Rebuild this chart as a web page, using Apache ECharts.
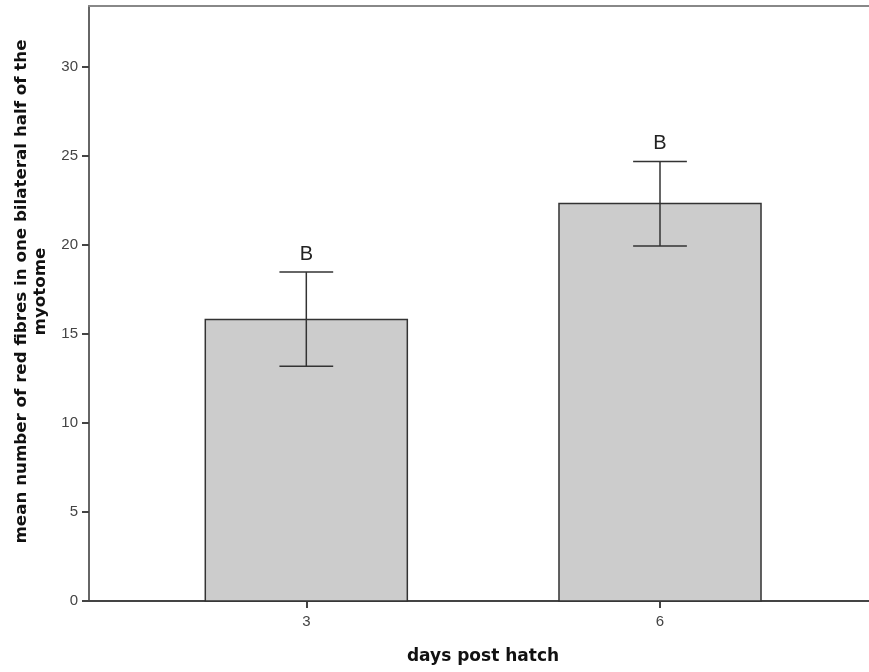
<!DOCTYPE html>
<html>
<head>
<meta charset="utf-8">
<script src="https://cdn.jsdelivr.net/npm/echarts@6/dist/echarts.min.js"></script>
<style>html,body{margin:0;padding:0;background:#fff}#c{width:869px;height:672px}</style>
</head>
<body>
<div id="c"></div>
<script>
var categories = ['3', '6'];
var means = [15.8, 22.3];
var lowerCI = [13.17, 19.92];
var upperCI = [18.46, 24.66];
var letters = ['B', 'B'];
var yTicks = [0, 5, 10, 15, 20, 25, 30];

var chart = echarts.init(document.getElementById('c'));
var idx = categories.map(function (c, i) { return i; });
var barHalf = 0.2856, capHalf = 0.076;

chart.setOption({
  animation: false,
  grid: { left: 89, right: 0, top: 6, bottom: 71, outerBoundsMode: 'none', containLabel: false },
  xAxis: [{
    type: 'value', min: -0.6144, max: 1.5909,
    splitLine: { show: false },
    axisLine: { onZero: false, lineStyle: { color: '#444', width: 2 } },
    axisTick: { customValues: idx, length: 7, lineStyle: { color: '#444', width: 2 } },
    axisLabel: { customValues: idx, formatter: function (v) { return categories[Math.round(v)]; },
      color: '#444', fontSize: 15, fontFamily: 'Liberation Sans', margin: 13 },
    name: 'days post hatch', nameLocation: 'middle', nameGap: 47,
    nameTextStyle: { fontSize: 17, fontWeight: 'bold', color: '#111', fontFamily: 'DejaVu Sans', padding: [0, 0, 0, 8] }
  }, {
    type: 'value', position: 'top', min: -0.6144, max: 1.5909,
    splitLine: { show: false }, axisTick: { show: false }, axisLabel: { show: false },
    axisLine: { show: true, onZero: false, lineStyle: { color: '#888', width: 2 } }
  }],
  yAxis: {
    type: 'value', min: 0, max: 33.39,
    splitLine: { show: false },
    axisLine: { show: true, onZero: false, lineStyle: { color: '#666', width: 2 } },
    axisTick: { show: true, customValues: yTicks, length: 7, lineStyle: { color: '#444', width: 2 } },
    axisLabel: { customValues: yTicks, color: '#444', fontSize: 15, fontFamily: 'Liberation Sans', margin: 11 },
    name: 'mean number of red fibres in one bilateral half of the\nmyotome', nameLocation: 'middle', nameGap: 38,
    nameTextStyle: { fontSize: 16.7, fontWeight: 'bold', color: '#111', fontFamily: 'DejaVu Sans', lineHeight: 19,
      padding: [0, 0, 0, 24] }
  },
  series: [{
    type: 'custom',
    data: idx.map(function (i) { return [i, means[i], lowerCI[i], upperCI[i]]; }),
    renderItem: function (params, api) {
      var x = api.value(0), m = api.value(1), lo = api.value(2), hi = api.value(3);
      var tl = api.coord([x - barHalf, m]), br = api.coord([x + barHalf, 0]);
      var cLo = api.coord([x, lo]), cHi = api.coord([x, hi]);
      var capL = api.coord([x - capHalf, hi])[0], capR = api.coord([x + capHalf, hi])[0];
      var ls = { stroke: '#333', lineWidth: 1.5 };
      return { type: 'group', children: [
        { type: 'rect', shape: { x: tl[0], y: tl[1], width: br[0] - tl[0], height: br[1] - tl[1] },
          style: { fill: '#cccccc', stroke: '#333', lineWidth: 1.5 } },
        { type: 'line', shape: { x1: cLo[0], y1: cLo[1], x2: cHi[0], y2: cHi[1] }, style: ls },
        { type: 'line', shape: { x1: capL, y1: cHi[1], x2: capR, y2: cHi[1] }, style: ls },
        { type: 'line', shape: { x1: capL, y1: cLo[1], x2: capR, y2: cLo[1] }, style: ls },
        { type: 'text', x: cHi[0], y: cHi[1] - 18,
          style: { text: letters[params.dataIndex], fill: '#222', fontSize: 20, fontFamily: 'Liberation Sans',
            align: 'center', verticalAlign: 'middle' } }
      ]};
    }
  }]
});
</script>
</body>
</html>
